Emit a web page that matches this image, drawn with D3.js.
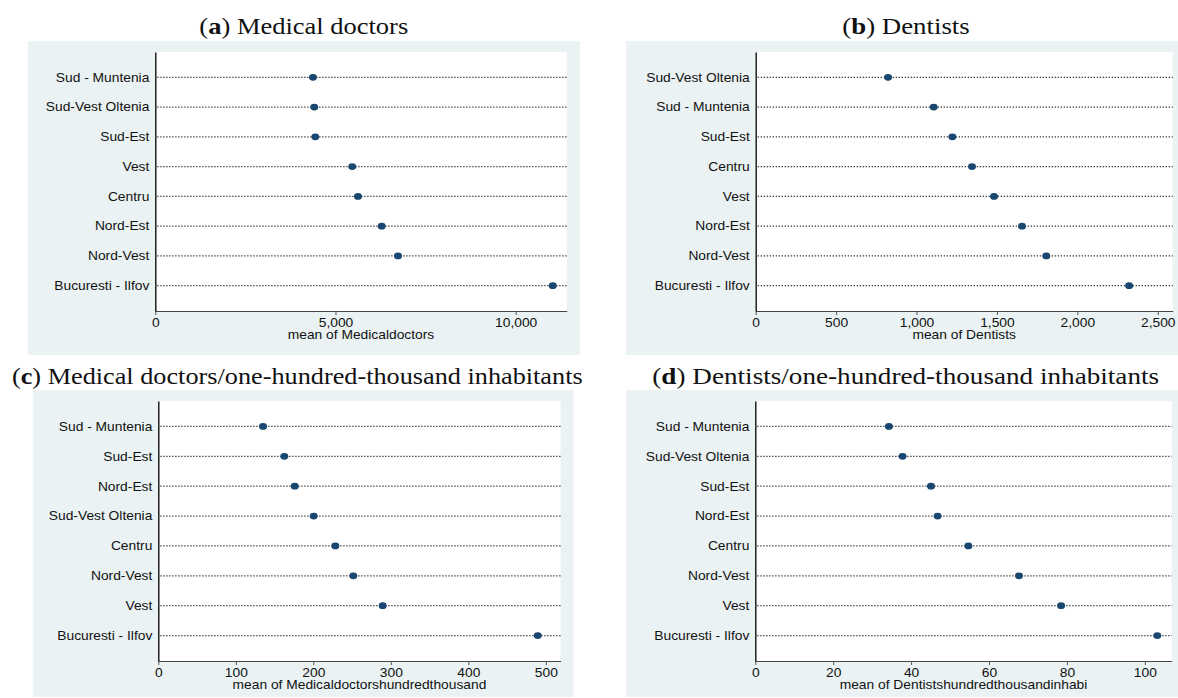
<!DOCTYPE html>
<html>
<head>
<meta charset="utf-8">
<script src="https://cdn.jsdelivr.net/npm/d3@7"></script>
<style>
  body { margin: 0; background: #fff; }
  svg { display: block; }
</style>
</head>
<body>
<div id="chart"></div>
<script>
// regions and values, top row to bottom row of each panel
var doctorsRegions = ["Sud - Muntenia", "Sud-Vest Oltenia", "Sud-Est", "Vest", "Centru", "Nord-Est", "Nord-Vest", "Bucuresti - Ilfov"];
var doctorsValues = [4376, 4412, 4440, 5466, 5624, 6282, 6734, 11029];

var dentistsRegions = ["Sud-Vest Oltenia", "Sud - Muntenia", "Sud-Est", "Centru", "Vest", "Nord-Est", "Nord-Vest", "Bucuresti - Ilfov"];
var dentistsValues = [823, 1107, 1223, 1345, 1482, 1656, 1807, 2322];

var doctorsPerRegions = ["Sud - Muntenia", "Sud-Est", "Nord-Est", "Sud-Vest Oltenia", "Centru", "Nord-Vest", "Vest", "Bucuresti - Ilfov"];
var doctorsPerValues = [135.1, 162.6, 176, 200.5, 228.4, 251.6, 289.5, 489.5];

var dentistsPerRegions = ["Sud - Muntenia", "Sud-Vest Oltenia", "Sud-Est", "Nord-Est", "Centru", "Nord-Vest", "Vest", "Bucuresti - Ilfov"];
var dentistsPerValues = [34.3, 37.8, 45.1, 46.8, 54.7, 67.7, 78.5, 103.2];

var doctorsTicks = [0, 5000, 10000];
var dentistsTicks = [0, 500, 1000, 1500, 2000, 2500];
var doctorsPerTicks = [0, 100, 200, 300, 400, 500];
var dentistsPerTicks = [0, 20, 40, 60, 80, 100];

var svgWidth = 1178;
var svgHeight = 698;
var stretch = 1.15; // the source figure is stretched sideways
var navy = "#1a476f";
var sans = "'Liberation Sans', Arial, sans-serif";

var svg = d3.select("#chart")
  .append("svg")
  .attr("width", svgWidth)
  .attr("height", svgHeight);

// panel layout
var panels = [
  { letter: "a", title: "Medical doctors", regions: doctorsRegions, values: doctorsValues, ticks: doctorsTicks,
    xMax: 11416, axisTitle: "mean of Medicaldoctors",
    bg: [27.7, 41, 580, 355], plot: [155.3, 52, 566.7, 311], titleX: 303.8, titleY: 33.5, titleW: 209 },
  { letter: "b", title: "Dentists", regions: dentistsRegions, values: dentistsValues, ticks: dentistsTicks,
    xMax: 2593, axisTitle: "mean of Dentists",
    bg: [626, 41, 1178, 355], plot: [755.7, 52, 1172.7, 311], titleX: 906, titleY: 33.5, titleW: 127.5 },
  { letter: "c", title: "Medical doctors/one-hundred-thousand inhabitants", regions: doctorsPerRegions, values: doctorsPerValues, ticks: doctorsPerTicks,
    xMax: 519, axisTitle: "mean of Medicaldoctorshundredthousand",
    bg: [33.3, 390, 573.6, 697], plot: [158.3, 401, 560.6, 661], titleX: 297.3, titleY: 383.5, titleW: 571 },
  { letter: "d", title: "Dentists/one-hundred-thousand inhabitants", regions: dentistsPerRegions, values: dentistsPerValues, ticks: dentistsPerTicks,
    xMax: 106.9, axisTitle: "mean of Dentistshundredthousandinhabi",
    bg: [626, 390, 1178, 697], plot: [755.3, 401, 1171.7, 661], titleX: 905.7, titleY: 383.5, titleW: 507 }
];

panels.forEach(function(p) {
  var g = svg.append("g");
  var left = p.plot[0], top = p.plot[1], right = p.plot[2], bottom = p.plot[3];

  // grey graph region and white plot region
  g.append("rect")
    .attr("x", p.bg[0]).attr("y", p.bg[1])
    .attr("width", p.bg[2] - p.bg[0]).attr("height", p.bg[3] - p.bg[1])
    .attr("fill", "#eaf2f3");
  g.append("rect")
    .attr("x", left).attr("y", top)
    .attr("width", right - left).attr("height", bottom - top)
    .attr("fill", "#fff");

  // panel title, bold letter
  var title = g.append("text")
    .attr("text-anchor", "middle")
    .attr("font-family", "'Liberation Serif', 'DejaVu Serif', serif")
    .attr("font-size", 23)
    .attr("fill", "#111");
  title.append("tspan").text("(");
  title.append("tspan").attr("font-weight", "bold").text(p.letter);
  title.append("tspan").text(") " + p.title);
  var natural = title.node().getComputedTextLength();
  title.attr("transform", `translate(${p.titleX}, ${p.titleY}) scale(${p.titleW / natural}, 1)`);

  var xScale = d3.scaleLinear()
    .domain([0, p.xMax])
    .range([left, right]);

  var yScale = d3.scalePoint()
    .domain(p.regions)
    .range([top, bottom])
    .padding(0.85);

  // dotted guide lines
  g.selectAll(".guide")
    .data(p.regions)
    .enter().append("line")
    .attr("x1", xScale(0) + 2)
    .attr("x2", right)
    .attr("y1", d => yScale(d))
    .attr("y2", d => yScale(d))
    .attr("stroke", "#222")
    .attr("stroke-width", 1.2)
    .attr("stroke-dasharray", "1.2,1.8");

  // bottom axis
  var bottomAxis = d3.axisBottom(xScale)
    .tickValues(p.ticks)
    .tickFormat(d3.format(","))
    .tickSizeInner(4)
    .tickSizeOuter(0)
    .tickPadding(3);

  var xAxisGroup = g.append("g")
    .attr("transform", `translate(0, ${bottom})`)
    .call(bottomAxis);
  xAxisGroup.select(".domain").attr("stroke", "#444").attr("stroke-width", 1.2);
  xAxisGroup.selectAll(".tick line").attr("stroke", "#555");
  xAxisGroup.selectAll(".tick text")
    .attr("font-family", sans)
    .attr("font-size", 12)
    .attr("fill", "#111")
    .attr("transform", `scale(${stretch}, 1)`);

  // left axis with region names
  var leftAxis = d3.axisLeft(yScale)
    .tickSize(0)
    .tickPadding(6);

  var yAxisGroup = g.append("g")
    .attr("transform", `translate(${left}, 0)`)
    .call(leftAxis);
  yAxisGroup.select(".domain").attr("stroke", "#111").attr("stroke-width", 1.4);
  yAxisGroup.selectAll(".tick text")
    .attr("x", -6 / stretch)
    .attr("font-family", sans)
    .attr("font-size", 12)
    .attr("fill", "#111")
    .attr("transform", `scale(${stretch}, 1)`);

  // axis title
  g.append("text")
    .attr("text-anchor", "middle")
    .attr("font-family", sans)
    .attr("font-size", 12)
    .attr("fill", "#111")
    .attr("transform", `translate(${(left + right) / 2}, ${bottom + 27.5}) scale(${stretch}, 1)`)
    .text(p.axisTitle);

  // markers
  g.selectAll(".dot")
    .data(p.regions)
    .enter().append("ellipse")
    .attr("class", "dot")
    .attr("cx", (d, i) => xScale(p.values[i]))
    .attr("cy", d => yScale(d))
    .attr("rx", 4)
    .attr("ry", 3.4)
    .attr("fill", navy);
});
</script>
</body>
</html>
